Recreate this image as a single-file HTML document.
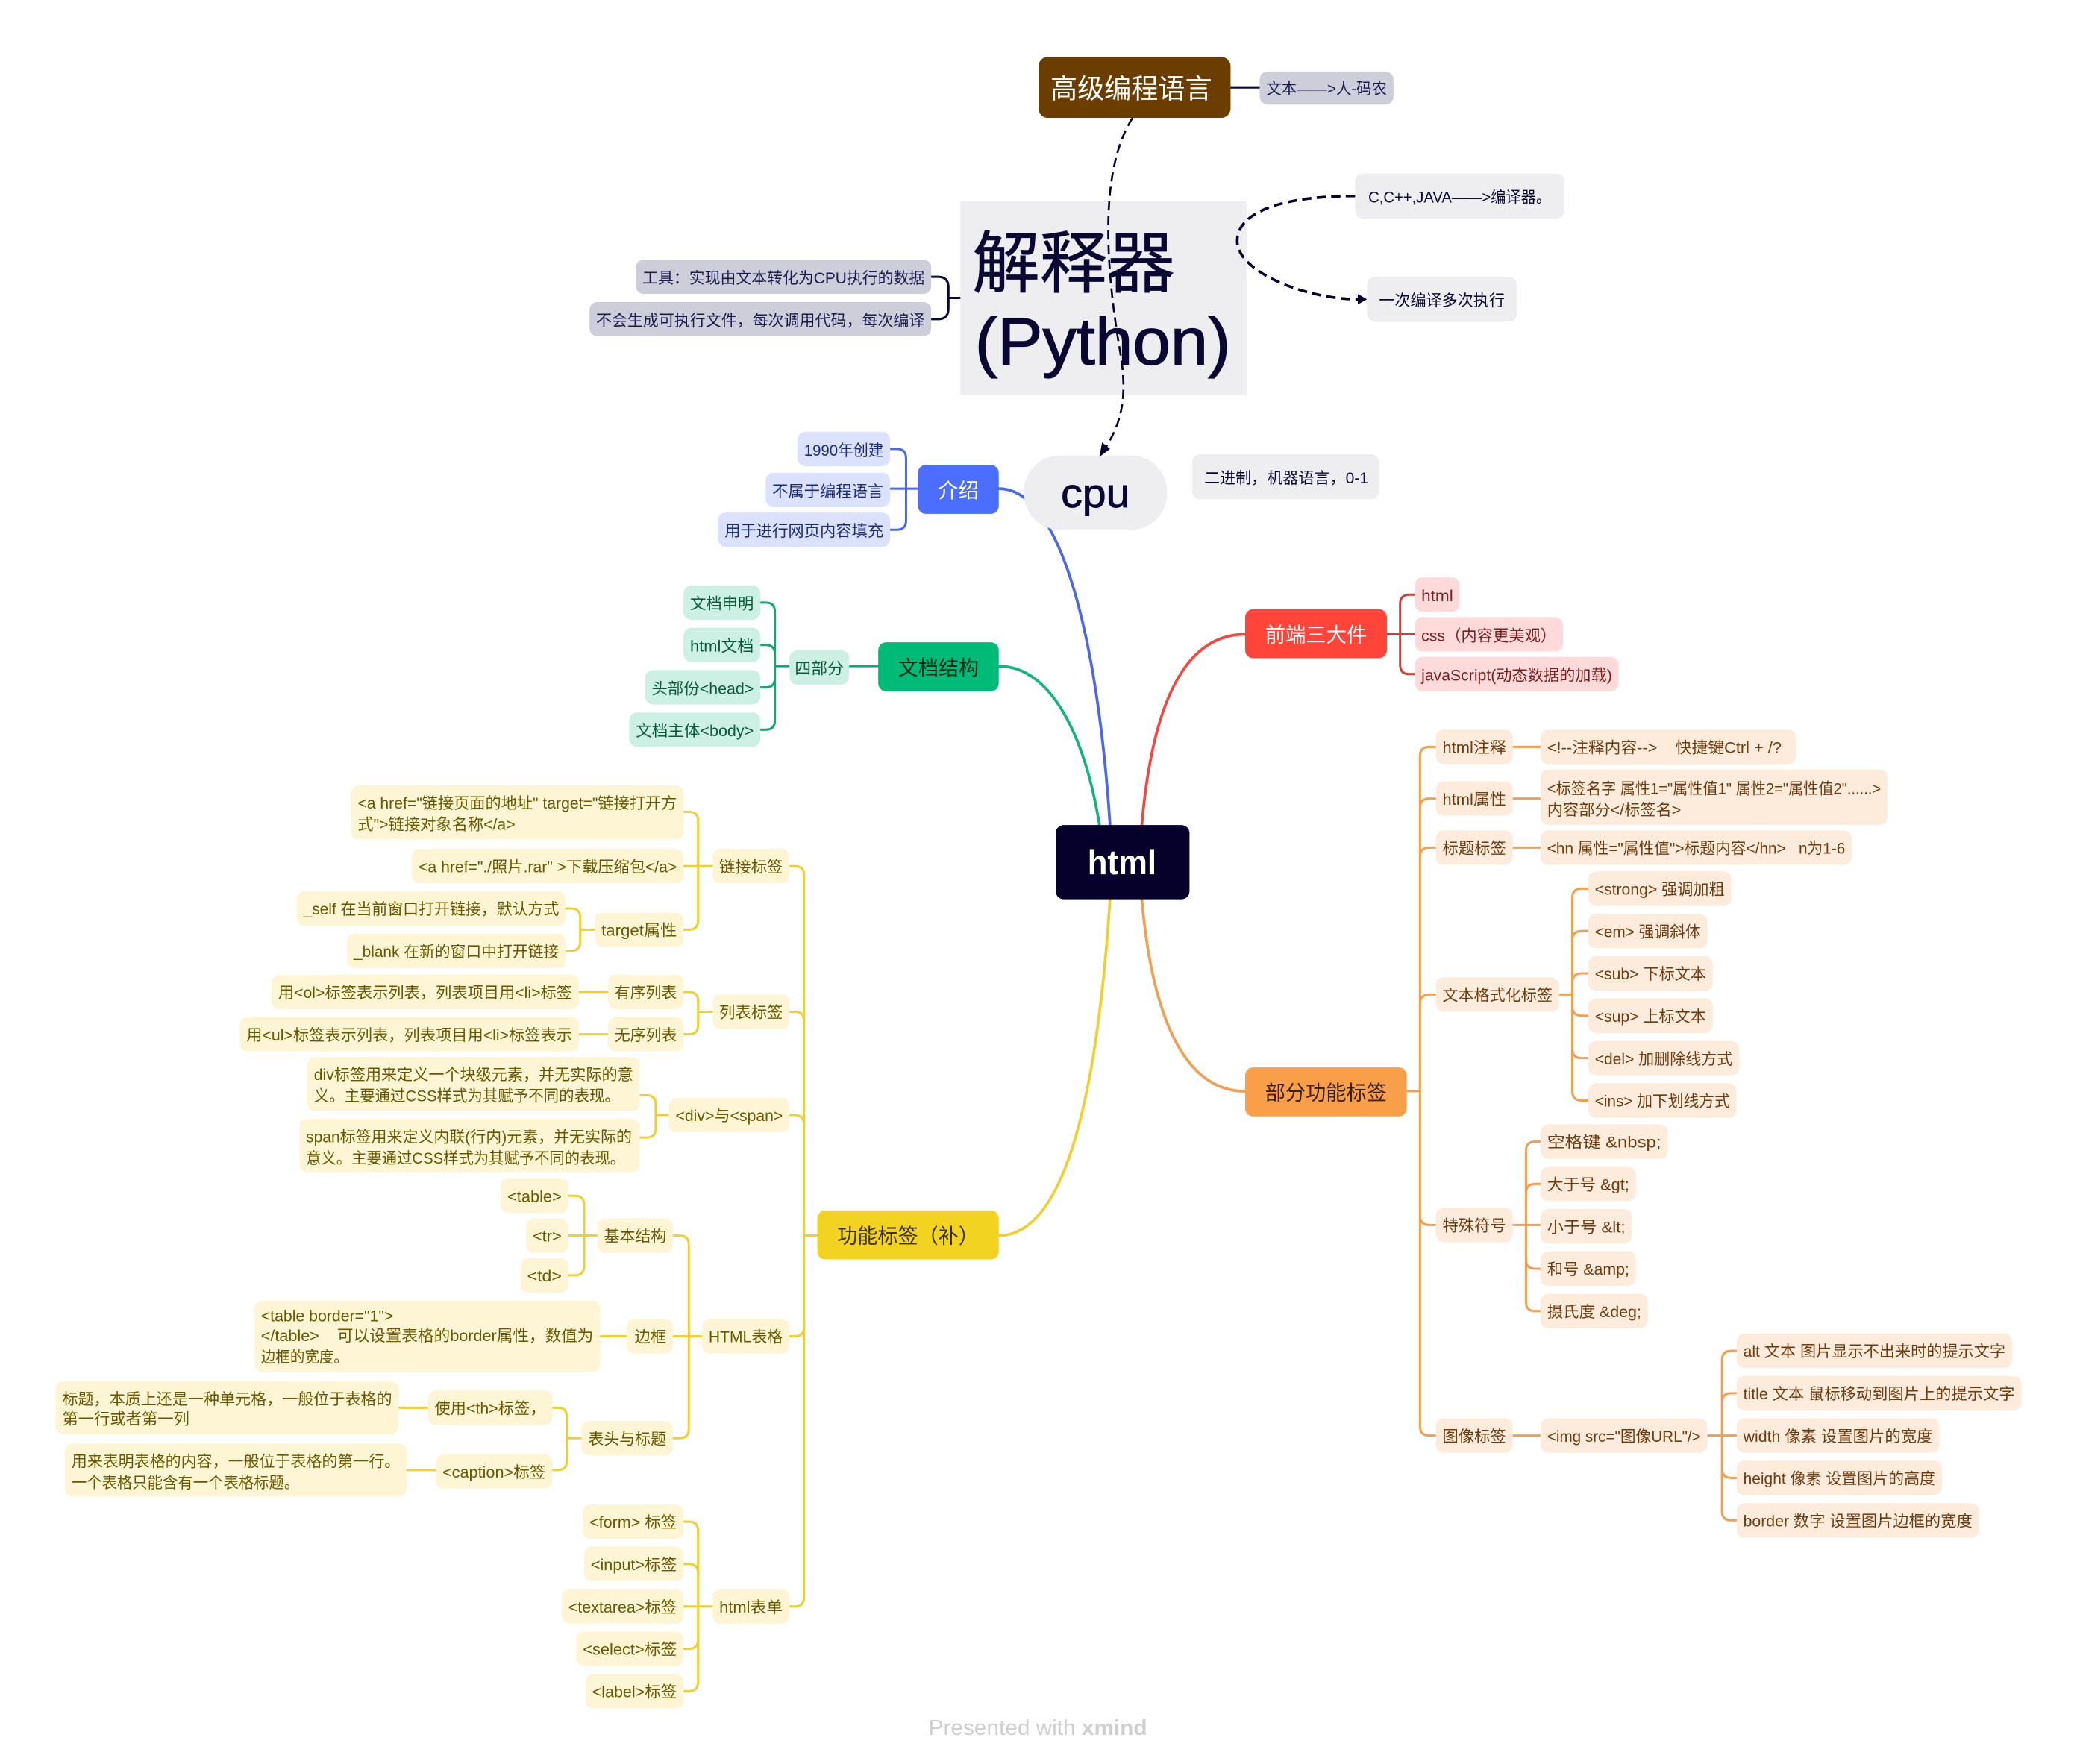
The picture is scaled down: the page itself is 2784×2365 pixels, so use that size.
<!DOCTYPE html>
<html lang="zh"><head><meta charset="utf-8"><title>html</title>
<style>
html,body{margin:0;padding:0;background:#fff}
svg{display:block}
text{font-family:"Liberation Sans","Noto Sans CJK SC",sans-serif;font-size:12px;white-space:pre}
.c{fill:none;stroke-linecap:round}
.n rect{fill:#eeedf0}.n text{fill:#0a0733}
.k rect{fill:#cdced9}.k text{fill:#1b1a4d}
.b rect{fill:#dbe2ff}.b text{fill:#1c2c78}
.g rect{fill:#ccf1e4}.g text{fill:#0a5a3e}
.r rect{fill:#fedada}.r text{fill:#7a1f1f}
.o rect{fill:#fdebdb}.o text{fill:#6d3c10;transform:translateY(-.4px)}
.y rect{fill:#fdf5d3}.y text{fill:#6a5800;transform:translateY(-.4px)}
.m text{font-size:15.5px;transform:translateY(.6px)}
</style></head><body>
<svg xmlns="http://www.w3.org/2000/svg" width="2784" height="2365" viewBox="0 0 1568 1332">
<rect width="1568" height="1332" fill="#fff"/>

<!-- connectors -->
<g class="c" stroke-width="2.1">
<path stroke="#4b68e8" d="M754,369 C805,369 830,500 838,623"/>
<path stroke="#12b57c" d="M754,503 C795,503 820,560 830,623"/>
<path stroke="#ee4a42" d="M940,479 C895,479 870,530 862,623"/>
<path stroke="#f0a050" d="M862,679 C870,770 895,824 940,824"/>
<path stroke="#f0d030" d="M754,933 C810,933 830,800 838,679"/>
</g>
<g class="c" stroke-width="1.7">
<path stroke="#0a0733" d="M929,66 H951"/>
<path stroke="#0a0733" d="M703,209 H708 Q716,209 716,217 V233 Q716,241 708,241 H703 M716,225 H725"/>
<g stroke="#4b68e8"><path d="M672,339 H677 Q684,339 684,346 V393 Q684,400 677,400 H672 M672,369 H693"/></g>
<g stroke="#12a876"><path d="M574,455 H578 Q585,455 585,462 V544 Q585,551 578,551 H574 M574,487 H578 Q585,487 585,494 M574,519 H578 Q585,519 585,512 M585,503 H596 M641,503 H663"/></g>
<g stroke="#c8403a"><path d="M1068,449 H1064 Q1057,449 1057,456 V502 Q1057,509 1064,509 H1068 M1047,479 H1068"/></g>
<g stroke="#f0a050">
<path d="M1062,824 H1072 M1084,564 H1079 Q1072,564 1072,571 V1077 Q1072,1084 1079,1084 H1084 M1084,603 H1079 Q1072,603 1072,610 M1084,640 H1079 Q1072,640 1072,647 M1084,751 H1079 Q1072,751 1072,758 M1084,925 H1079 Q1072,925 1072,918"/>
<path d="M1142,564 H1163 M1142,603 H1163 M1142,640 H1163 M1142,925 H1163 M1142,1084 H1163 M1177,751 H1187 M1289,1084 H1311"/>
<path d="M1199,671 H1194 Q1187,671 1187,678 V824 Q1187,831 1194,831 H1199 M1199,703 H1194 Q1187,703 1187,710 M1199,735 H1194 Q1187,735 1187,742 M1199,767 H1194 Q1187,767 1187,760 M1199,799 H1194 Q1187,799 1187,792"/>
<path d="M1163,862 H1159 Q1152,862 1152,869 V983 Q1152,990 1159,990 H1163 M1163,894 H1159 Q1152,894 1152,901 M1163,958 H1159 Q1152,958 1152,951"/>
<path d="M1311,1020 H1307 Q1300,1020 1300,1027 V1141 Q1300,1148 1307,1148 H1311 M1311,1052 H1307 Q1300,1052 1300,1059 M1311,1116 H1307 Q1300,1116 1300,1109"/>
</g>
<g stroke="#f0d030">
<path d="M617,933 H607 M596,654 H600 Q607,654 607,661 V1206 Q607,1213 600,1213 H596 M596,764 H600 Q607,764 607,771 M596,842 H600 Q607,842 607,849 M596,1009 H600 Q607,1009 607,1002"/>
<path d="M516,613 H520 Q527,613 527,620 V695 Q527,702 520,702 H516 M516,654 H538 M427,686 H431 Q438,686 438,693 V711 Q438,718 431,718 H427 M438,702 H449"/>
<path d="M437,749 H459 M437,781 H459 M516,749 H520 Q527,749 527,756 V774 Q527,781 520,781 H516 M527,764 H538"/>
<path d="M483,827 H488 Q495,827 495,834 V852 Q495,859 488,859 H483 M495,842 H505"/>
<path d="M508,933 H513 Q520,933 520,940 V1079 Q520,1086 513,1086 H508 M508,1009 H530 M453,1009 H473"/>
<path d="M429,903 H434 Q441,903 441,910 V956 Q441,963 434,963 H429 M429,933 H451"/>
<path d="M417,1063 H421 Q428,1063 428,1070 V1103 Q428,1110 421,1110 H417 M428,1086 H439 M301,1063 H323 M307,1110 H329"/>
<path d="M516,1149 H520 Q527,1149 527,1156 V1270 Q527,1277 520,1277 H516 M516,1181 H520 Q527,1181 527,1188 M516,1213 H538 M516,1245 H520 Q527,1245 527,1238"/>
</g>
</g>

<!-- top -->
<rect x="784" y="43" width="145" height="46" rx="7" fill="#6b3e00"/>
<text x="793" y="74" fill="#fff" style="font-size:20.5px" textLength="122" lengthAdjust="spacingAndGlyphs">高级编程语言</text>
<g class="k">
<rect x="951" y="54" width="101" height="25" rx="6"/><text x="956" y="71" textLength="91" lengthAdjust="spacingAndGlyphs">文本——&gt;人-码农</text>
<rect x="480" y="196" width="223" height="26" rx="6"/><text x="485" y="214" textLength="213" lengthAdjust="spacingAndGlyphs">工具：实现由文本转化为CPU执行的数据</text>
<rect x="445" y="228" width="258" height="26" rx="6"/><text x="450" y="246" textLength="248" lengthAdjust="spacingAndGlyphs">不会生成可执行文件，每次调用代码，每次编译</text>
</g>
<g class="n">
<rect x="725" y="152" width="216" height="146"/>
<text x="734" y="216.5" style="font-size:51px" stroke="#0a0733" stroke-width=".4" textLength="153" lengthAdjust="spacingAndGlyphs">解释器</text>
<text x="736" y="275" style="font-size:50px" stroke="#0a0733" stroke-width=".7" textLength="193" lengthAdjust="spacingAndGlyphs">(Python)</text>
<rect x="1023" y="131" width="158" height="34" rx="6"/><text x="1033" y="153" textLength="138" lengthAdjust="spacingAndGlyphs">C,C++,JAVA——&gt;编译器。</text>
<rect x="1032" y="209" width="113" height="34" rx="6"/><text x="1041" y="231" textLength="95" lengthAdjust="spacingAndGlyphs">一次编译多次执行</text>
<rect x="773" y="344" width="108" height="56" rx="27"/><text x="801" y="383" style="font-size:31px" stroke="#0a0733" stroke-width=".5" textLength="52" lengthAdjust="spacingAndGlyphs">cpu</text>
<rect x="900" y="343" width="141" height="34" rx="6"/><text x="909" y="365" textLength="124" lengthAdjust="spacingAndGlyphs">二进制，机器语言，0-1</text>
</g>

<!-- center -->
<rect x="797" y="623" width="101" height="56" rx="6" fill="#05012b"/>
<text x="821" y="660" fill="#fff" style="font-size:26px;font-weight:bold" textLength="52" lengthAdjust="spacingAndGlyphs">html</text>

<!-- main topics -->
<g class="m">
<rect x="693" y="351" width="61" height="37" rx="6" fill="#4b6eff"/><text x="708" y="375" fill="#fff" textLength="31" lengthAdjust="spacingAndGlyphs">介绍</text>
<rect x="663" y="485" width="91" height="37" rx="6" fill="#00ba77"/><text x="678" y="509" fill="#06281a" textLength="61" lengthAdjust="spacingAndGlyphs">文档结构</text>
<rect x="940" y="460" width="107" height="37" rx="6" fill="#ff453a"/><text x="955" y="484" fill="#fff" textLength="77" lengthAdjust="spacingAndGlyphs">前端三大件</text>
<rect x="940" y="806" width="122" height="37" rx="6" fill="#f99f4a"/><text x="955" y="830" fill="#3a1f00" textLength="92" lengthAdjust="spacingAndGlyphs">部分功能标签</text>
<rect x="617" y="914" width="137" height="37" rx="6" fill="#f3d321"/><text x="632" y="938" fill="#3a2f00" textLength="107" lengthAdjust="spacingAndGlyphs">功能标签（补）</text>
</g>

<!-- blue -->
<g class="b">
<rect x="602" y="326" width="70" height="26" rx="6"/><text x="607" y="344" textLength="60" lengthAdjust="spacingAndGlyphs">1990年创建</text>
<rect x="578" y="357" width="94" height="26" rx="6"/><text x="583" y="375" textLength="84" lengthAdjust="spacingAndGlyphs">不属于编程语言</text>
<rect x="542" y="387" width="130" height="26" rx="6"/><text x="547" y="405" textLength="120" lengthAdjust="spacingAndGlyphs">用于进行网页内容填充</text>
</g>

<!-- green -->
<g class="g">
<rect x="596" y="491" width="45" height="26" rx="6"/><text x="600" y="509" textLength="37" lengthAdjust="spacingAndGlyphs">四部分</text>
<rect x="516" y="442" width="58" height="26" rx="6"/><text x="521" y="460" textLength="48" lengthAdjust="spacingAndGlyphs">文档申明</text>
<rect x="516" y="474" width="58" height="26" rx="6"/><text x="521" y="492" textLength="48" lengthAdjust="spacingAndGlyphs">html文档</text>
<rect x="487" y="506" width="87" height="26" rx="6"/><text x="492" y="524" textLength="77" lengthAdjust="spacingAndGlyphs">头部份&lt;head&gt;</text>
<rect x="475" y="538" width="99" height="26" rx="6"/><text x="480" y="556" textLength="89" lengthAdjust="spacingAndGlyphs">文档主体&lt;body&gt;</text>
</g>

<!-- red -->
<g class="r">
<rect x="1068" y="436" width="34" height="26" rx="6"/><text x="1073" y="454" textLength="24" lengthAdjust="spacingAndGlyphs">html</text>
<rect x="1068" y="466" width="112" height="26" rx="6"/><text x="1073" y="484" textLength="102" lengthAdjust="spacingAndGlyphs">css（内容更美观）</text>
<rect x="1068" y="496" width="154" height="26" rx="6"/><text x="1073" y="514" textLength="144" lengthAdjust="spacingAndGlyphs">javaScript(动态数据的加载)</text>
</g>

<!-- orange -->
<g class="o">
<rect x="1084" y="551" width="58" height="26" rx="6"/><text x="1089" y="569" textLength="48" lengthAdjust="spacingAndGlyphs">html注释</text>
<rect x="1163" y="551" width="193" height="26" rx="6"/><text x="1168" y="569" textLength="177" lengthAdjust="spacingAndGlyphs">&lt;!--注释内容--&gt;    快捷键Ctrl + /?</text>
<rect x="1084" y="590" width="58" height="26" rx="6"/><text x="1089" y="608" textLength="48" lengthAdjust="spacingAndGlyphs">html属性</text>
<rect x="1163" y="581" width="262" height="42" rx="6"/><text x="1168" y="600" textLength="252" lengthAdjust="spacingAndGlyphs">&lt;标签名字 属性1="属性值1" 属性2="属性值2"......&gt;</text><text x="1168" y="616" textLength="101" lengthAdjust="spacingAndGlyphs">内容部分&lt;/标签名&gt;</text>
<rect x="1084" y="627" width="58" height="26" rx="6"/><text x="1089" y="645" textLength="48" lengthAdjust="spacingAndGlyphs">标题标签</text>
<rect x="1163" y="627" width="235" height="26" rx="6"/><text x="1168" y="645" textLength="225" lengthAdjust="spacingAndGlyphs">&lt;hn 属性="属性值"&gt;标题内容&lt;/hn&gt;   n为1-6</text>
<rect x="1084" y="738" width="93" height="26" rx="6"/><text x="1089" y="756" textLength="83" lengthAdjust="spacingAndGlyphs">文本格式化标签</text>
<rect x="1199" y="658" width="108" height="26" rx="6"/><text x="1204" y="676" textLength="98" lengthAdjust="spacingAndGlyphs">&lt;strong&gt; 强调加粗</text>
<rect x="1199" y="690" width="90" height="26" rx="6"/><text x="1204" y="708" textLength="80" lengthAdjust="spacingAndGlyphs">&lt;em&gt; 强调斜体</text>
<rect x="1199" y="722" width="94" height="26" rx="6"/><text x="1204" y="740" textLength="84" lengthAdjust="spacingAndGlyphs">&lt;sub&gt; 下标文本</text>
<rect x="1199" y="754" width="94" height="26" rx="6"/><text x="1204" y="772" textLength="84" lengthAdjust="spacingAndGlyphs">&lt;sup&gt; 上标文本</text>
<rect x="1199" y="786" width="114" height="26" rx="6"/><text x="1204" y="804" textLength="104" lengthAdjust="spacingAndGlyphs">&lt;del&gt; 加删除线方式</text>
<rect x="1199" y="818" width="112" height="26" rx="6"/><text x="1204" y="836" textLength="102" lengthAdjust="spacingAndGlyphs">&lt;ins&gt; 加下划线方式</text>
<rect x="1084" y="912" width="58" height="26" rx="6"/><text x="1089" y="930" textLength="48" lengthAdjust="spacingAndGlyphs">特殊符号</text>
<rect x="1163" y="849" width="96" height="26" rx="6"/><text x="1168" y="867" textLength="86" lengthAdjust="spacingAndGlyphs">空格键 &amp;nbsp;</text>
<rect x="1163" y="881" width="72" height="26" rx="6"/><text x="1168" y="899" textLength="62" lengthAdjust="spacingAndGlyphs">大于号 &amp;gt;</text>
<rect x="1163" y="913" width="69" height="26" rx="6"/><text x="1168" y="931" textLength="59" lengthAdjust="spacingAndGlyphs">小于号 &amp;lt;</text>
<rect x="1163" y="945" width="72" height="26" rx="6"/><text x="1168" y="963" textLength="62" lengthAdjust="spacingAndGlyphs">和号 &amp;amp;</text>
<rect x="1163" y="977" width="81" height="26" rx="6"/><text x="1168" y="995" textLength="71" lengthAdjust="spacingAndGlyphs">摄氏度 &amp;deg;</text>
<rect x="1084" y="1071" width="58" height="26" rx="6"/><text x="1089" y="1089" textLength="48" lengthAdjust="spacingAndGlyphs">图像标签</text>
<rect x="1163" y="1071" width="126" height="26" rx="6"/><text x="1168" y="1089" textLength="116" lengthAdjust="spacingAndGlyphs">&lt;img src="图像URL"/&gt;</text>
<rect x="1311" y="1007" width="208" height="26" rx="6"/><text x="1316" y="1025" textLength="198" lengthAdjust="spacingAndGlyphs">alt 文本 图片显示不出来时的提示文字</text>
<rect x="1311" y="1039" width="215" height="26" rx="6"/><text x="1316" y="1057" textLength="205" lengthAdjust="spacingAndGlyphs">title 文本 鼠标移动到图片上的提示文字</text>
<rect x="1311" y="1071" width="153" height="26" rx="6"/><text x="1316" y="1089" textLength="143" lengthAdjust="spacingAndGlyphs">width 像素 设置图片的宽度</text>
<rect x="1311" y="1103" width="155" height="26" rx="6"/><text x="1316" y="1121" textLength="145" lengthAdjust="spacingAndGlyphs">height 像素 设置图片的高度</text>
<rect x="1311" y="1135" width="183" height="26" rx="6"/><text x="1316" y="1153" textLength="173" lengthAdjust="spacingAndGlyphs">border 数字 设置图片边框的宽度</text>
</g>

<!-- yellow -->
<g class="y">
<rect x="538" y="641" width="58" height="26" rx="6"/><text x="543" y="659" textLength="48" lengthAdjust="spacingAndGlyphs">链接标签</text>
<rect x="265" y="593" width="251" height="41" rx="6"/><text x="270" y="611" textLength="241" lengthAdjust="spacingAndGlyphs">&lt;a href="链接页面的地址" target="链接打开方</text><text x="270" y="627" textLength="119" lengthAdjust="spacingAndGlyphs">式"&gt;链接对象名称&lt;/a&gt;</text>
<rect x="311" y="641" width="205" height="26" rx="6"/><text x="316" y="659" textLength="195" lengthAdjust="spacingAndGlyphs">&lt;a href="./照片.rar" &gt;下载压缩包&lt;/a&gt;</text>
<rect x="449" y="689" width="67" height="26" rx="6"/><text x="454" y="707" textLength="57" lengthAdjust="spacingAndGlyphs">target属性</text>
<rect x="224" y="673" width="203" height="26" rx="6"/><text x="229" y="691" textLength="193" lengthAdjust="spacingAndGlyphs">_self 在当前窗口打开链接，默认方式</text>
<rect x="262" y="705" width="165" height="26" rx="6"/><text x="267" y="723" textLength="155" lengthAdjust="spacingAndGlyphs">_blank 在新的窗口中打开链接</text>
<rect x="538" y="751" width="58" height="26" rx="6"/><text x="543" y="769" textLength="48" lengthAdjust="spacingAndGlyphs">列表标签</text>
<rect x="459" y="736" width="57" height="26" rx="6"/><text x="464" y="754" textLength="47" lengthAdjust="spacingAndGlyphs">有序列表</text>
<rect x="205" y="736" width="232" height="26" rx="6"/><text x="210" y="754" textLength="222" lengthAdjust="spacingAndGlyphs">用&lt;ol&gt;标签表示列表，列表项目用&lt;li&gt;标签</text>
<rect x="459" y="768" width="57" height="26" rx="6"/><text x="464" y="786" textLength="47" lengthAdjust="spacingAndGlyphs">无序列表</text>
<rect x="181" y="768" width="256" height="26" rx="6"/><text x="186" y="786" textLength="246" lengthAdjust="spacingAndGlyphs">用&lt;ul&gt;标签表示列表，列表项目用&lt;li&gt;标签表示</text>
<rect x="505" y="829" width="91" height="26" rx="6"/><text x="510" y="847" textLength="81" lengthAdjust="spacingAndGlyphs">&lt;div&gt;与&lt;span&gt;</text>
<rect x="232" y="798" width="251" height="41" rx="6"/><text x="237" y="816" textLength="241" lengthAdjust="spacingAndGlyphs">div标签用来定义一个块级元素，并无实际的意</text><text x="237" y="832" textLength="231" lengthAdjust="spacingAndGlyphs">义。主要通过CSS样式为其赋予不同的表现。</text>
<rect x="226" y="845" width="257" height="40" rx="6"/><text x="231" y="863" textLength="246" lengthAdjust="spacingAndGlyphs">span标签用来定义内联(行内)元素，并无实际的</text><text x="231" y="879" textLength="241" lengthAdjust="spacingAndGlyphs">意义。主要通过CSS样式为其赋予不同的表现。</text>
<rect x="530" y="996" width="66" height="26" rx="6"/><text x="535" y="1014" textLength="56" lengthAdjust="spacingAndGlyphs">HTML表格</text>
<rect x="451" y="920" width="57" height="26" rx="6"/><text x="456" y="938" textLength="47" lengthAdjust="spacingAndGlyphs">基本结构</text>
<rect x="378" y="890" width="51" height="26" rx="6"/><text x="383" y="908" textLength="41" lengthAdjust="spacingAndGlyphs">&lt;table&gt;</text>
<rect x="397" y="920" width="32" height="26" rx="6"/><text x="402" y="938" textLength="22" lengthAdjust="spacingAndGlyphs">&lt;tr&gt;</text>
<rect x="393" y="950" width="36" height="26" rx="6"/><text x="398" y="968" textLength="26" lengthAdjust="spacingAndGlyphs">&lt;td&gt;</text>
<rect x="473" y="996" width="35" height="26" rx="6"/><text x="479" y="1014" textLength="24" lengthAdjust="spacingAndGlyphs">边框</text>
<rect x="192" y="982" width="261" height="54" rx="6"/><text x="197" y="998" textLength="100" lengthAdjust="spacingAndGlyphs">&lt;table border="1"&gt;</text><text x="197" y="1013" textLength="251" lengthAdjust="spacingAndGlyphs">&lt;/table&gt;    可以设置表格的border属性，数值为</text><text x="197" y="1029" textLength="66" lengthAdjust="spacingAndGlyphs">边框的宽度。</text>
<rect x="439" y="1073" width="69" height="26" rx="6"/><text x="444" y="1091" textLength="59" lengthAdjust="spacingAndGlyphs">表头与标题</text>
<rect x="323" y="1050" width="94" height="26" rx="6"/><text x="328" y="1068" textLength="84" lengthAdjust="spacingAndGlyphs">使用&lt;th&gt;标签，</text>
<rect x="329" y="1098" width="88" height="26" rx="6"/><text x="334" y="1116" textLength="78" lengthAdjust="spacingAndGlyphs">&lt;caption&gt;标签</text>
<rect x="42" y="1043" width="259" height="40" rx="6"/><text x="47" y="1061" textLength="249" lengthAdjust="spacingAndGlyphs">标题，本质上还是一种单元格，一般位于表格的</text><text x="47" y="1076" textLength="96" lengthAdjust="spacingAndGlyphs">第一行或者第一列</text>
<rect x="49" y="1090" width="258" height="40" rx="6"/><text x="54" y="1108" textLength="248" lengthAdjust="spacingAndGlyphs">用来表明表格的内容，一般位于表格的第一行。</text><text x="54" y="1124" textLength="172" lengthAdjust="spacingAndGlyphs">一个表格只能含有一个表格标题。</text>
<rect x="538" y="1200" width="58" height="26" rx="6"/><text x="543" y="1218" textLength="48" lengthAdjust="spacingAndGlyphs">html表单</text>
<rect x="440" y="1136" width="76" height="26" rx="6"/><text x="445" y="1154" textLength="66" lengthAdjust="spacingAndGlyphs">&lt;form&gt; 标签</text>
<rect x="441" y="1168" width="75" height="26" rx="6"/><text x="446" y="1186" textLength="65" lengthAdjust="spacingAndGlyphs">&lt;input&gt;标签</text>
<rect x="424" y="1200" width="92" height="26" rx="6"/><text x="429" y="1218" textLength="82" lengthAdjust="spacingAndGlyphs">&lt;textarea&gt;标签</text>
<rect x="435" y="1232" width="81" height="26" rx="6"/><text x="440" y="1250" textLength="71" lengthAdjust="spacingAndGlyphs">&lt;select&gt;标签</text>
<rect x="442" y="1264" width="74" height="26" rx="6"/><text x="447" y="1282" textLength="64" lengthAdjust="spacingAndGlyphs">&lt;label&gt;标签</text>
</g>

<!-- dashed relations -->
<g class="c" stroke="#05012b" stroke-dasharray="7 4" style="stroke-linecap:butt">
<path stroke-width="1.5" d="M855,89 C832,125 833,190 845,262 C852,300 847,320 832,342"/>
<path stroke-width="2" d="M1023,148 C968,148 934,160 934,182 C934,205 985,226 1026,226"/>
</g>
<polygon points="830,345 832,334 838,339" fill="#05012b"/>
<polygon points="1032,226 1025,222 1025,230" fill="#05012b"/>

<text x="701" y="1310" fill="#cfcfcf" style="font-size:16px" textLength="165" lengthAdjust="spacingAndGlyphs">Presented with <tspan font-weight="bold">xmind</tspan></text>
</svg>
</body></html>
